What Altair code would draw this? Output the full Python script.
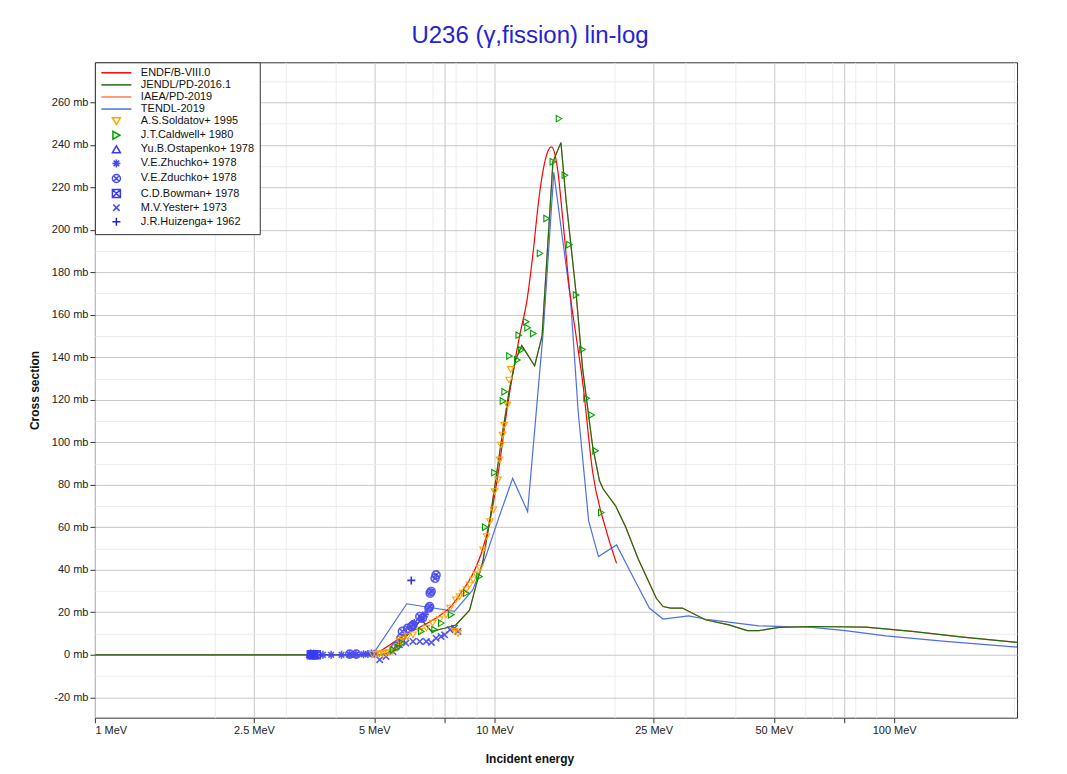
import altair as alt
import pandas as pd

# ---------------- series names / styles ----------------
SERIES = ["ENDF/B-VIII.0", "JENDL/PD-2016.1", "IAEA/PD-2019", "TENDL-2019",
          "A.S.Soldatov+ 1995", "J.T.Caldwell+ 1980", "Yu.B.Ostapenko+ 1978",
          "V.E.Zhuchko+ 1978", "V.E.Zduchko+ 1978", "C.D.Bowman+ 1978",
          "M.V.Yester+ 1973", "J.R.Huizenga+ 1962"]
COLORS = ["#ff0000", "#1e6b14", "#ff7f50", "#4b70e6",
          "#ffa500", "#00a000", "#3a3af5",
          "#4646f5", "#4a4af0", "#3a3af5",
          "#4646f5", "#2222cc"]
LINE_SYM = "M-3.75,0L3.75,0"
SHAPES = [LINE_SYM, LINE_SYM, LINE_SYM, LINE_SYM,
          "triangle-down", "triangle-right", "triangle-up",
          "M-1,0L1,0M0,-1L0,1M-0.7,-0.7L0.7,0.7M-0.7,0.7L0.7,-0.7",
          "M1,0A1,1,0,1,1,-1,0A1,1,0,1,1,1,0Z M-0.7,-0.7L0.7,0.7M-0.7,0.7L0.7,-0.7",
          "M-1,-1L1,-1L1,1L-1,1Z M-1,-1L1,1M-1,1L1,-1",
          "M-0.8,-0.8L0.8,0.8M-0.8,0.8L0.8,-0.8",
          "M-1,0L1,0M0,-1L0,1"]

# ---------------- evaluated data (E in MeV, cross section in mb) ----------------
endf_E = [4.9, 5.2, 5.5, 5.88, 6.5, 7.13, 7.8, 8.3, 8.82, 9.35, 9.71, 10.26, 10.68,
          11.1, 11.55, 12.06, 12.5, 12.9, 13.4, 13.87, 14.37, 14.8, 15.4, 16.0, 16.6,
          17.6, 19.0, 20.2]
endf_XS = [0, 2, 5, 8.6, 13, 17.2, 23, 30, 38, 50, 62, 88, 112,
           132, 150, 167, 190, 214, 233, 239, 229, 206, 172, 150, 129,
           86, 59, 43]

jendl_E = [1.0, 5.3, 5.62, 5.9, 6.25, 6.56, 6.95, 7.5, 8.0, 8.66, 9.0, 9.35, 9.71, 10.1,
           10.5, 10.9, 11.3, 11.7, 12.6, 13.15, 14.0, 14.66, 15.1, 16.0, 16.6, 17.6,
           18.3, 18.7, 20.1, 21.3, 22.9, 25.4, 26.4, 27.6, 29.5, 33.7, 38.6, 42.9,
           45.9, 51.5, 62.5, 84.9, 110.9, 148.6, 203]
jendl_XS = [0, 0, 3, 7, 12, 16.5, 11, 12.5, 14, 21, 33, 44, 62, 84,
            106, 125, 139, 145.5, 136, 150, 232, 241, 214, 170, 135, 98,
            82, 78, 70, 60, 45, 26.6, 22.7, 22, 22, 16.5, 14.1, 11.4,
            11.4, 12.9, 13.3, 13.0, 11.0, 8.3, 5.8]

iaea_E = list(jendl_E)
iaea_XS = list(jendl_XS)

tendl_E = [1.0, 4.95, 6.03, 7.94, 8.82, 9.5, 10.27, 11.1, 12.1, 13.25, 14.07, 15.5,
           16.2, 17.2, 18.2, 20.2, 22.4, 24.4, 26.4, 30.6, 34.3, 45.9, 62.4, 75.5,
           95.2, 134.4, 203]
tendl_XS = [0, 0, 24, 20.4, 30.5, 46, 65, 83, 67.4, 153, 227, 167,
            114, 63, 46.2, 51.7, 35.3, 22, 16.8, 18.3, 16.5, 13.6, 12.9, 11.4,
            8.9, 6.3, 3.6]

# ---------------- experimental data ----------------
sold_E = [4.95, 5.05, 5.15, 5.25, 5.35, 5.45, 5.57, 5.7, 5.78, 5.88, 6.06, 6.25, 6.5,
          6.75, 7.0, 7.29, 7.56, 7.74, 8.0, 8.17, 8.33, 8.5, 8.66, 8.84, 9.01, 9.19,
          9.36, 9.55, 9.74, 9.93, 10.0, 10.2, 10.3, 10.37, 10.47, 10.57, 10.77, 10.87,
          10.97, 7.95, 8.1]
sold_XS = [0.2, 0.3, 0.4, 0.5, 0.8, 1.0, 1.6, 3.5, 6.3, 7.4, 8.6, 9.4, 11,
           12.5, 14.9, 16.5, 18.8, 22, 25.9, 27.4, 29, 30.6, 32.9, 35.3, 37.6, 40.8,
           49.4, 55.6, 62.7, 68.2, 76.8, 82.3, 91.7, 98.7, 103.4, 108, 117.5, 129.3,
           134.3, 11, 10]

cald_E = [5.57, 5.73, 5.88, 6.56, 7.08, 7.36, 7.79, 8.5, 9.17, 9.48, 10.0, 10.5, 10.6,
          10.9, 11.4, 11.5, 11.66, 12.0, 12.1, 12.5, 13.0, 13.5, 14.0, 14.5, 15.0,
          15.4, 16.0, 16.6, 17.0, 17.5, 17.9, 18.5]
cald_XS = [2.35, 3.6, 5.5, 11, 11.8, 14.9, 18.8, 29, 36.8, 60, 85.7, 119.4, 123.8,
           140.6, 138.7, 150.4, 143.4, 156.7, 153.9, 151.2, 188.9, 205.3, 232, 252.3, 225.7,
           193, 169.3, 143.7, 120.7, 112.8, 96, 66.9]

osta_E = [3.47, 3.53]
osta_XS = [0.5, 0.3]

zhuc_E = [3.45, 3.56, 3.72, 3.9, 4.14, 4.34, 4.5, 4.7, 4.82, 4.92, 5.0, 6.3, 6.55, 6.7]
zhuc_XS = [0, 0, 0, 0, 0, 0, 0, 0.2, 0.4, 0.6, 0.5, 15, 17, 19]

zduc_E = [4.34, 4.51, 5.66, 5.83, 5.88, 6.06, 6.2, 6.25, 6.5, 6.6, 6.85, 6.88, 6.9,
          6.94, 7.1, 7.14]
zduc_XS = [0.3, 0.3, 3.9, 7.8, 11, 12.5, 13.3, 14, 18, 17.2, 22, 22.7, 29,
           29.8, 36, 37.6]

bowm_E = [3.48, 3.52, 3.58]
bowm_XS = [0, 0, 0]

yest_E = [5.16, 5.35, 5.57, 5.78, 6.0, 6.25, 6.5, 6.75, 6.95, 7.14, 7.35, 7.5, 7.74,
          7.94, 8.1]
yest_XS = [-2.3, -0.8, 1.5, 4.7, 5.5, 6.3, 6.3, 6.3, 5.8, 7.8, 8.6, 9.4, 11.8,
           12.5, 11]

huiz_E = [6.19]
huiz_XS = [35]

# ---------------- axis ticks ----------------
X_MAJOR = [1, 2.5, 5, 7.5, 10, 25, 50, 75, 100]
X_MINOR = [2, 3, 4, 6, 7, 8, 9, 20, 30, 40, 60, 70, 80, 90, 200]
Y_MAJOR = list(range(-20, 261, 20))
Y_MINOR = list(range(-10, 271, 20))
X_DOMAIN = [1, 203]
Y_DOMAIN = [-29.6, 278.8]


def frame(name, E, XS):
    return pd.DataFrame({"E": E, "XS": XS, "series": name})


FONT = "Liberation Sans"

color_enc = alt.Color("series:N", scale=alt.Scale(domain=SERIES, range=COLORS),
                      legend=alt.Legend(title=None))
shape_enc = alt.Shape("series:N", scale=alt.Scale(domain=SERIES, range=SHAPES),
                      legend=alt.Legend(title=None))

xscale = alt.Scale(type="log", domain=X_DOMAIN, nice=False)
yscale = alt.Scale(domain=Y_DOMAIN, nice=False, zero=False)

ax_bottom = alt.Axis(orient="bottom", values=X_MAJOR,
                     labelExpr="(datum.value == 7.5 || datum.value == 75) ? '' : datum.value + ' MeV'",
                     grid=True, gridColor="#c8c8c8", domain=False, tickSize=5, tickColor="#333",
                     title="Incident energy", titleFontWeight="bold", titleFontSize=12,
                     titleX=435, titlePadding=18, labelPadding=2, labelFontSize=11)
ax_top = alt.Axis(orient="top", values=X_MINOR, labels=False, ticks=False, domain=False,
                  grid=True, gridColor="#ebebeb", title=None)
ax_left = alt.Axis(orient="left", values=Y_MAJOR, labelExpr="datum.value + ' mb'",
                   grid=True, gridColor="#c8c8c8", domain=False, tickSize=5, tickColor="#333",
                   title="Cross section", titleFontWeight="bold", titleFontSize=12,
                   titlePadding=10, labelPadding=2, labelFontSize=11)
ax_right = alt.Axis(orient="right", values=Y_MINOR, labels=False, ticks=False, domain=False,
                    grid=True, gridColor="#ebebeb", title=None)

tendl = alt.Chart(frame(SERIES[3], tendl_E, tendl_XS)).mark_line(strokeWidth=1.2, clip=True).encode(
    x=alt.X("E:Q", scale=xscale, axis=ax_top),
    y=alt.Y("XS:Q", scale=yscale, axis=ax_right),
    color=color_enc)
iaea = alt.Chart(frame(SERIES[2], iaea_E, iaea_XS)).mark_line(strokeWidth=1.2, clip=True).encode(
    x=alt.X("E:Q", scale=xscale, axis=None),
    y=alt.Y("XS:Q", scale=yscale, axis=None),
    color=color_enc)
endf = alt.Chart(frame(SERIES[0], endf_E, endf_XS)).mark_line(strokeWidth=1.2, clip=True,
                                                              interpolate="monotone").encode(
    x=alt.X("E:Q", scale=xscale, axis=ax_bottom),
    y=alt.Y("XS:Q", scale=yscale, axis=ax_left),
    color=color_enc)
jendl = alt.Chart(frame(SERIES[1], jendl_E, jendl_XS)).mark_line(strokeWidth=1.2, clip=True).encode(
    x=alt.X("E:Q", scale=xscale, axis=None),
    y=alt.Y("XS:Q", scale=yscale, axis=None),
    color=color_enc)

pts_main = pd.concat([
    frame(SERIES[4], sold_E, sold_XS),
    frame(SERIES[5], cald_E, cald_XS),
], ignore_index=True)

pts_blue = pd.concat([
    frame(SERIES[6], osta_E, osta_XS),
    frame(SERIES[7], zhuc_E, zhuc_XS),
    frame(SERIES[8], zduc_E, zduc_XS),
    frame(SERIES[9], bowm_E, bowm_XS),
    frame(SERIES[10], yest_E, yest_XS),
    frame(SERIES[11], huiz_E, huiz_XS),
], ignore_index=True)

points = alt.Chart(pts_main).mark_point(filled=False, size=42, strokeWidth=1.1, opacity=1, clip=True).encode(
    x=alt.X("E:Q", scale=xscale, axis=None),
    y=alt.Y("XS:Q", scale=yscale, axis=None),
    color=color_enc,
    shape=shape_enc)

points_blue = alt.Chart(pts_blue).mark_point(filled=False, size=64, strokeWidth=1.6, opacity=0.9, clip=True).encode(
    x=alt.X("E:Q", scale=xscale, axis=None),
    y=alt.Y("XS:Q", scale=yscale, axis=None),
    color=color_enc,
    shape=shape_enc)

chart = alt.layer(tendl, iaea, endf, jendl, points_blue, points).properties(
    width=923, height=656,
    autosize="none",
    padding={"left": 87, "top": 54, "right": 42, "bottom": 48},
    title=alt.Title("U236 (γ,fission) lin-log", fontSize=24, color="#2323d6", font=FONT,
                    fontWeight="normal", anchor="middle", offset=14, dx=-26),
    background="white",
).configure_view(stroke="#333", strokeWidth=1).configure_axis(
    labelFont=FONT, titleFont=FONT, labelColor="#222", titleColor="#111", gridWidth=1
).configure_legend(
    orient="top-left", offset=0, strokeColor="#333", fillColor="white", padding=5,
    labelFont=FONT, labelFontSize=11, labelColor="#111", symbolSize=64,
    symbolStrokeWidth=1.5, symbolOpacity=1, rowPadding=0.1, symbolOffset=11, labelOffset=19,
    cornerRadius=0
)

chart.save("out.html", embed_options={"renderer": "svg", "actions": False})
